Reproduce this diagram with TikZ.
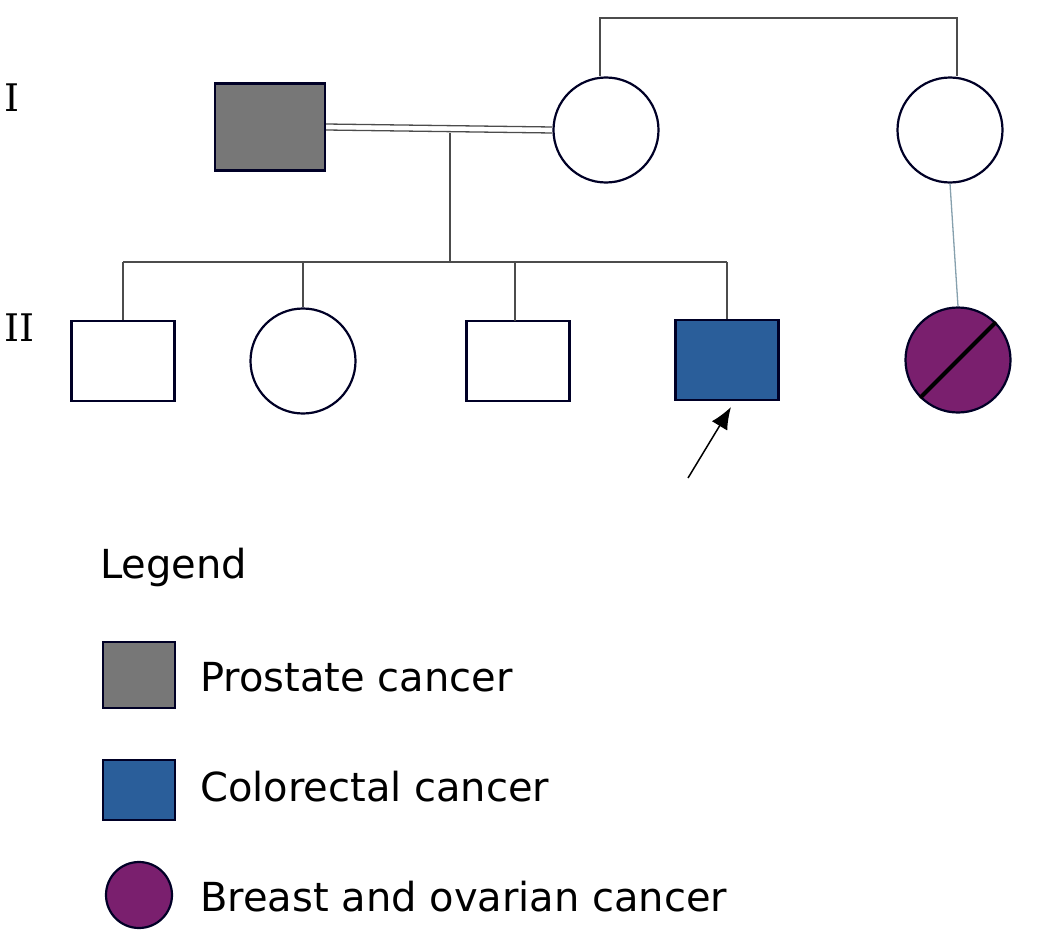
\documentclass[tikz,border=0pt]{standalone}
\usetikzlibrary{arrows.meta}
\usepackage{fontspec}
\setmainfont{DejaVu Sans}
\newfontfamily\serifgen{DejaVu Serif}
\definecolor{cgrey}{HTML}{777777}
\definecolor{cblue}{HTML}{2A5E9A}
\definecolor{cpurp}{HTML}{7A1F6E}
\begin{document}
\begin{tikzpicture}[x=1pt,y=-1pt,
  ind/.style={draw=black!85!blue,line width=2.2pt,inner sep=0pt},
  sq/.style={ind,rectangle,minimum width=103pt,minimum height=80pt},
  ci/.style={ind,circle,minimum size=105pt},
  ln/.style={line width=1.3pt,draw=black!70},
  txt/.style={font=\fontsize{40}{48}\selectfont,anchor=west,inner sep=0pt},
  gen/.style={font=\serifgen\fontsize{38}{44}\selectfont,inner sep=0pt}]
\useasboundingbox (0,0) rectangle (1044,950);
\node[gen] (g1) at (12,98) {I};
\node[gen] (g2) at (20,328) {II};
\node[sq,fill=cgrey,minimum height=87pt,minimum width=110pt] (a) at (270,127) {};
\node[ci] (b) at (606,130) {};
\node[ci] (c) at (950,130) {};
\node[sq] (d) at (123,361) {};
\node[ci] (e) at (303,361) {};
\node[sq] (f) at (518,361) {};
\node[sq,fill=cblue] (g) at (727,360) {};
\node[ci,fill=cpurp] (h) at (958,360) {};
\draw[line width=4pt] (h.225) -- (h.45);
\draw[ln] ([yshift=-3pt]a.east) -- ([yshift=-3pt]b.west);
\draw[ln] ([yshift=3pt]a.east) -- ([yshift=3pt]b.west);
\coordinate (m) at (450,133);
\coordinate (t1) at (600,18);
\coordinate (t2) at (957,18);
\draw[ln] (b.north -| t1) -- (t1) -- (t2) -- (c.north -| t2);
\draw[ln] (m) -- (450,262);
\draw[ln] (123,262) -- (727,262);
\draw[ln] (123,262) -- (d.north);
\draw[ln] (303,262) -- (e.north);
\draw[ln] (515,262) -- (515,321);
\draw[ln] (727,262) -- (g.north);
\draw[line width=1.3pt,draw=cyan!40!black!60] (c.south) -- (h.north);
\coordinate (ar) at (688,478);
\draw[line width=1.5pt,-{Latex[length=22pt,width=18pt]}] (ar) -- (731,407);
\node[txt] (lt) at (100,567) {Legend};
\node[sq,fill=cgrey,minimum width=72pt,minimum height=66pt] (l1) at (139,675) {};
\node[sq,fill=cblue,minimum width=72pt,minimum height=60pt] (l2) at (139,790) {};
\node[ci,fill=cpurp,minimum size=66pt] (l3) at (139,895) {};
\node[txt] (t1l) at (200,677) {Prostate cancer};
\node[txt] (t2l) at (200,787) {Colorectal cancer};
\node[txt] (t3l) at (200,897) {Breast and ovarian cancer};
\end{tikzpicture}
\end{document}
